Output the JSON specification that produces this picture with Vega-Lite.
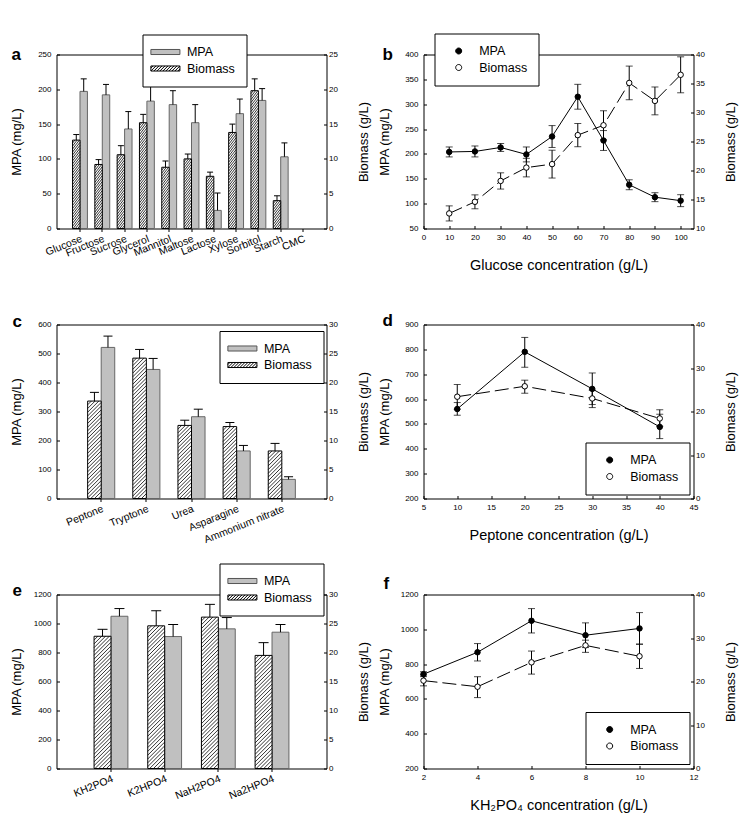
{
  "$schema": "https://vega.github.io/schema/vega-lite/v6.json",
  "background": "white",
  "padding": {"left": 9.5, "top": 32.5, "right": 2, "bottom": 2},
  "config": {
    "font": "Liberation Sans",
    "view": {"stroke": "black", "strokeWidth": 1},
    "axis": {"domain": false, "grid": false, "labelColor": "black", "tickColor": "black", "titleColor": "black", "titleFontWeight": "normal", "labelFontSize": 8, "labelOverlap": false, "labelFlush": false, "tickSize": -3, "tickWidth": 1},
    "legend": {"labelColor": "black", "labelFontSize": 12.5},
    "title": {"color": "black"}
  },
  "datasets": {
    "a": [
      {"series": "Biomass", "cat": "Glucose", "v": 12.7, "hi": 13.5},
      {"series": "Biomass", "cat": "Fructose", "v": 9.2, "hi": 9.9},
      {"series": "Biomass", "cat": "Sucrose", "v": 10.6, "hi": 11.9},
      {"series": "Biomass", "cat": "Glycerol", "v": 15.2, "hi": 16.4},
      {"series": "Biomass", "cat": "Mannitol", "v": 8.8, "hi": 9.7},
      {"series": "Biomass", "cat": "Maltose", "v": 10.0, "hi": 10.7},
      {"series": "Biomass", "cat": "Lactose", "v": 7.5, "hi": 8.1},
      {"series": "Biomass", "cat": "Xylose", "v": 13.8, "hi": 15.0},
      {"series": "Biomass", "cat": "Sorbitol", "v": 19.8, "hi": 21.5},
      {"series": "Biomass", "cat": "Starch", "v": 4.0, "hi": 4.7},
      {"series": "MPA", "cat": "Glucose", "v": 197, "hi": 215},
      {"series": "MPA", "cat": "Fructose", "v": 192, "hi": 207},
      {"series": "MPA", "cat": "Sucrose", "v": 143, "hi": 168},
      {"series": "MPA", "cat": "Glycerol", "v": 183, "hi": 204},
      {"series": "MPA", "cat": "Mannitol", "v": 178, "hi": 198},
      {"series": "MPA", "cat": "Maltose", "v": 152, "hi": 178},
      {"series": "MPA", "cat": "Lactose", "v": 26, "hi": 51},
      {"series": "MPA", "cat": "Xylose", "v": 165, "hi": 186},
      {"series": "MPA", "cat": "Sorbitol", "v": 184, "hi": 201},
      {"series": "MPA", "cat": "Starch", "v": 103, "hi": 123}
    ],
    "b": [
      {"series": "MPA", "x": 10, "v": 204, "lo": 194, "hi": 214},
      {"series": "MPA", "x": 20, "v": 205, "lo": 194, "hi": 216},
      {"series": "MPA", "x": 30, "v": 213, "lo": 205, "hi": 221},
      {"series": "MPA", "x": 40, "v": 199, "lo": 184, "hi": 214},
      {"series": "MPA", "x": 50, "v": 235, "lo": 213, "hi": 257},
      {"series": "MPA", "x": 60, "v": 315, "lo": 290, "hi": 340},
      {"series": "MPA", "x": 70, "v": 227, "lo": 207, "hi": 247},
      {"series": "MPA", "x": 80, "v": 138, "lo": 128, "hi": 148},
      {"series": "MPA", "x": 90, "v": 113, "lo": 104, "hi": 122},
      {"series": "MPA", "x": 100, "v": 106, "lo": 94, "hi": 118},
      {"series": "Biomass", "x": 10, "v": 12.6, "lo": 11.3, "hi": 13.9},
      {"series": "Biomass", "x": 20, "v": 14.6, "lo": 13.4, "hi": 15.8},
      {"series": "Biomass", "x": 30, "v": 18.2, "lo": 16.8, "hi": 19.6},
      {"series": "Biomass", "x": 40, "v": 20.5, "lo": 18.9, "hi": 22.1},
      {"series": "Biomass", "x": 50, "v": 21.1, "lo": 18.7, "hi": 23.5},
      {"series": "Biomass", "x": 60, "v": 26.1, "lo": 24.1, "hi": 28.1},
      {"series": "Biomass", "x": 70, "v": 27.8, "lo": 25.3, "hi": 30.3},
      {"series": "Biomass", "x": 80, "v": 35.1, "lo": 32.2, "hi": 38.0},
      {"series": "Biomass", "x": 90, "v": 32.0, "lo": 29.6, "hi": 34.4},
      {"series": "Biomass", "x": 100, "v": 36.5, "lo": 33.4, "hi": 39.6}
    ],
    "c": [
      {"series": "Biomass", "cat": "Peptone", "v": 16.8, "hi": 18.3},
      {"series": "Biomass", "cat": "Tryptone", "v": 24.2, "hi": 25.7},
      {"series": "Biomass", "cat": "Urea", "v": 12.6, "hi": 13.5},
      {"series": "Biomass", "cat": "Asparagine", "v": 12.4, "hi": 13.1},
      {"series": "Biomass", "cat": "Ammonium nitrate", "v": 8.2, "hi": 9.5},
      {"series": "MPA", "cat": "Peptone", "v": 521, "hi": 560},
      {"series": "MPA", "cat": "Tryptone", "v": 445, "hi": 483},
      {"series": "MPA", "cat": "Urea", "v": 282, "hi": 308},
      {"series": "MPA", "cat": "Asparagine", "v": 164, "hi": 183},
      {"series": "MPA", "cat": "Ammonium nitrate", "v": 66, "hi": 75}
    ],
    "d": [
      {"series": "MPA", "x": 10, "v": 560, "lo": 535, "hi": 586},
      {"series": "MPA", "x": 20, "v": 790, "lo": 728, "hi": 848},
      {"series": "MPA", "x": 30, "v": 641, "lo": 578, "hi": 705},
      {"series": "MPA", "x": 40, "v": 488, "lo": 441, "hi": 539},
      {"series": "Biomass", "x": 10, "v": 23.4, "lo": 20.5, "hi": 26.2},
      {"series": "Biomass", "x": 20, "v": 25.8, "lo": 24.2, "hi": 27.2},
      {"series": "Biomass", "x": 30, "v": 23.0, "lo": 20.9, "hi": 24.9},
      {"series": "Biomass", "x": 40, "v": 18.4, "lo": 16.6, "hi": 20.4}
    ],
    "e": [
      {"series": "Biomass", "cat": "KH2PO4", "v": 22.8, "hi": 24.0},
      {"series": "Biomass", "cat": "K2HPO4", "v": 24.6, "hi": 27.2},
      {"series": "Biomass", "cat": "NaH2PO4", "v": 26.1, "hi": 28.3},
      {"series": "Biomass", "cat": "Na2HPO4", "v": 19.5, "hi": 21.7},
      {"series": "MPA", "cat": "KH2PO4", "v": 1050, "hi": 1103},
      {"series": "MPA", "cat": "K2HPO4", "v": 910, "hi": 993},
      {"series": "MPA", "cat": "NaH2PO4", "v": 963, "hi": 1041},
      {"series": "MPA", "cat": "Na2HPO4", "v": 940, "hi": 993}
    ],
    "f": [
      {"series": "MPA", "x": 2, "v": 742, "lo": 728, "hi": 756},
      {"series": "MPA", "x": 4, "v": 868, "lo": 818, "hi": 918},
      {"series": "MPA", "x": 6, "v": 1049, "lo": 979, "hi": 1119},
      {"series": "MPA", "x": 8, "v": 966, "lo": 895, "hi": 1037},
      {"series": "MPA", "x": 10, "v": 1005, "lo": 914, "hi": 1096},
      {"series": "Biomass", "x": 2, "v": 20.2, "lo": 19.0, "hi": 21.5},
      {"series": "Biomass", "x": 4, "v": 18.8, "lo": 16.3, "hi": 21.1},
      {"series": "Biomass", "x": 6, "v": 24.4, "lo": 21.7, "hi": 27.0},
      {"series": "Biomass", "x": 8, "v": 28.3, "lo": 26.7, "hi": 29.5},
      {"series": "Biomass", "x": 10, "v": 25.8, "lo": 23.0, "hi": 28.6}
    ]
  },
  "concat": [
    {
      "width": 270, "height": 174,
      "data": {"name": "a"},
      "title": {"text": "a", "anchor": "start", "frame": "group", "orient": "top", "offset": 0, "dx": -45, "dy": 42.5, "baseline": "alphabetic", "fontSize": 17, "fontWeight": "bold"},
      "encoding": {
        "x": {"field": "cat", "type": "nominal", "scale": {"domain": ["Glucose", "Fructose", "Sucrose", "Glycerol", "Mannitol", "Maltose", "Lactose", "Xylose", "Sorbitol", "Starch", "CMC"], "paddingInner": 0.333, "paddingOuter": 0.72}, "axis": {"title": null, "labelAngle": -22, "labelFontSize": 10.5, "tickSize": 3, "labelPadding": 2}},
        "xOffset": {"field": "series", "type": "nominal", "scale": {"domain": ["Biomass", "MPA"], "paddingInner": 0, "paddingOuter": 0}}
      },
      "layer": [
        {
          "transform": [{"filter": "datum.series === 'MPA'"}],
          "encoding": {"y": {"field": "v", "type": "quantitative", "scale": {"domain": [0, 250], "nice": false}, "axis": {"title": "MPA (mg/L)", "values": [0, 50, 100, 150, 200, 250], "format": "d", "labelOverlap": false, "titleFontSize": 13, "titleX": -33, "titleBaseline": "bottom", "labelPadding": 8.5}}},
          "layer": [
            {"mark": {"type": "bar", "fill": "#c0c0c0", "stroke": "#666666", "strokeWidth": 1}},
            {"mark": {"type": "rule", "color": "black", "strokeWidth": 1}, "encoding": {"y2": {"field": "hi"}}},
            {"mark": {"type": "tick", "color": "black", "thickness": 1, "size": 6, "opacity": 1},
             "encoding": {"y": {"field": "hi", "type": "quantitative", "scale": {"domain": [0, 250], "nice": false}}}}
          ]
        },
        {
          "transform": [{"filter": "datum.series === 'Biomass'"}],
          "encoding": {"y": {"field": "v", "type": "quantitative", "scale": {"domain": [0, 25], "nice": false}, "axis": {"orient": "right", "title": "Biomass (g/L)", "values": [0, 5, 10, 15, 20, 25], "format": "d", "labelOverlap": false, "titleFontSize": 13, "titleAngle": 270, "titleX": 44, "titleBaseline": "bottom", "labelPadding": 5}}},
          "layer": [
            {"mark": {"type": "bar", "fill": "white", "stroke": "black", "strokeWidth": 1}},
            {"mark": {"type": "point", "shape": "M-1,0.8L-0.385,0M-1,1.6L0.231,0M-1,2.4L0.846,0M-1,3.2l2,-2.6m-2,3.4l2,-2.6m-2,3.4l2,-2.6m-2,3.4l2,-2.6m-2,3.4l2,-2.6m-2,3.4l2,-2.6m-2,3.4l2,-2.6m-2,3.4l2,-2.6m-2,3.4l2,-2.6m-2,3.4l2,-2.6m-2,3.4l2,-2.6m-2,3.4l2,-2.6m-2,3.4l2,-2.6m-2,3.4l2,-2.6m-2,3.4l2,-2.6m-2,3.4l2,-2.6m-2,3.4l2,-2.6m-2,3.4l2,-2.6m-2,3.4l2,-2.6m-2,3.4l2,-2.6m-2,3.4l2,-2.6m-2,3.4l2,-2.6m-2,3.4l2,-2.6m-2,3.4l2,-2.6m-2,3.4l2,-2.6m-2,3.4l2,-2.6m-2,3.4l2,-2.6m-2,3.4l2,-2.6m-2,3.4l2,-2.6m-2,3.4l2,-2.6m-2,3.4l2,-2.6m-2,3.4l2,-2.6m-2,3.4l2,-2.6m-2,3.4l2,-2.6m-2,3.4l2,-2.6m-2,3.4l2,-2.6m-2,3.4l2,-2.6m-2,3.4l2,-2.6m-2,3.4l2,-2.6m-2,3.4l2,-2.6m-2,3.4l2,-2.6m-2,3.4l2,-2.6m-2,3.4l2,-2.6m-2,3.4l2,-2.6m-2,3.4l2,-2.6m-2,3.4l2,-2.6m-2,3.4l2,-2.6m-2,3.4l2,-2.6m-2,3.4l2,-2.6m-2,3.4l2,-2.6m-2,3.4l2,-2.6m-2,3.4l2,-2.6m-2,3.4l2,-2.6m-2,3.4l2,-2.6m-2,3.4l2,-2.6m-2,3.4l2,-2.6m-2,3.4l2,-2.6m-2,3.4l2,-2.6m-2,3.4l2,-2.6m-2,3.4l2,-2.6", "size": 55.2, "filled": false, "stroke": "black", "strokeWidth": 0.8, "opacity": 1, "clip": true}},
            {"mark": {"type": "rule", "color": "black", "strokeWidth": 1}, "encoding": {"y2": {"field": "hi"}}},
            {"mark": {"type": "tick", "color": "black", "thickness": 1, "size": 6, "opacity": 1},
             "encoding": {"y": {"field": "hi", "type": "quantitative", "scale": {"domain": [0, 25], "nice": false}}}}
          ]
        },
        {
          "transform": [{"filter": "false"}],
          "mark": {"type": "point", "filled": true, "opacity": 0},
          "encoding": {
            "fill": {"field": "series", "type": "nominal", "scale": {"domain": ["MPA", "Biomass"], "range": ["#c0c0c0", "#ffffff"]},
              "legend": {"orient": "none", "legendX": 86, "legendY": -20, "title": null, "direction": "vertical", "fillColor": "white", "strokeColor": "black", "padding": 11, "labelFontSize": 12.5, "labelOffset": 15, "rowPadding": 3.5, "symbolSize": 144, "symbolOffset": 5.4, "symbolOpacity": 1, "symbolStrokeWidth": 1}},
            "stroke": {"field": "series", "type": "nominal", "scale": {"domain": ["MPA", "Biomass"], "range": ["#555555", "#000000"]},
              "legend": {"orient": "none", "legendX": 86, "legendY": -20, "title": null, "direction": "vertical", "fillColor": "white", "strokeColor": "black", "padding": 11, "labelFontSize": 12.5, "labelOffset": 15, "rowPadding": 3.5, "symbolSize": 144, "symbolOffset": 5.4, "symbolOpacity": 1, "symbolStrokeWidth": 1}},
            "shape": {"field": "series", "type": "nominal", "scale": {"domain": ["MPA", "Biomass"], "range": ["M-2.42,-0.42H2.42V0.42H-2.42Z", "M-2.42,-0.42H2.42V0.42H-2.42ZM-2.42,-0.08L-2.08,-0.42M-2.42,0.42l0.84,-0.84M-1.92,0.42l0.84,-0.84M-1.42,0.42l0.84,-0.84M-0.92,0.42l0.84,-0.84M-0.42,0.42l0.84,-0.84M0.08,0.42l0.84,-0.84M0.58,0.42l0.84,-0.84M1.08,0.42l0.84,-0.84M1.58,0.42l0.84,-0.84M2.08,0.42L2.42,0.08"]},
              "legend": {"orient": "none", "legendX": 86, "legendY": -20, "title": null, "direction": "vertical", "fillColor": "white", "strokeColor": "black", "padding": 11, "labelFontSize": 12.5, "labelOffset": 15, "rowPadding": 3.5, "symbolSize": 144, "symbolOffset": 5.4, "symbolOpacity": 1, "symbolStrokeWidth": 1}}
          }
        }
      ],
      "resolve": {"scale": {"y": "independent"}}
    },
    {
      "width": 270, "height": 174,
      "data": {"name": "b"},
      "title": {"text": "b", "anchor": "start", "frame": "group", "orient": "top", "offset": 0, "dx": -41, "dy": 44, "baseline": "alphabetic", "fontSize": 17, "fontWeight": "bold"},
      "encoding": {
        "x": {"field": "x", "type": "quantitative", "scale": {"domain": [0, 105], "nice": false, "zero": false}, "axis": {"title": "Glucose concentration (g/L)", "values": [0, 10, 20, 30, 40, 50, 60, 70, 80, 90, 100], "format": "d", "labelOverlap": false, "titleFontSize": 14.5, "titleY": 41, "titleBaseline": "alphabetic", "labelPadding": 7.5}}
      },
      "layer": [
        {
          "transform": [{"filter": "datum.series === 'MPA'"}],
          "encoding": {"y": {"field": "v", "type": "quantitative", "scale": {"domain": [50, 400], "nice": false, "zero": false}, "axis": {"title": "MPA (mg/L)", "values": [50, 100, 150, 200, 250, 300, 350, 400], "format": "d", "labelOverlap": false, "titleFontSize": 13, "titleX": -32, "titleBaseline": "bottom", "labelPadding": 8.5}}},
          "layer": [
            {"mark": {"type": "line", "color": "black", "strokeWidth": 1}},
            {"mark": {"type": "errorbar", "color": "black", "thickness": 1, "ticks": {"size": 7}},
             "encoding": {"y": {"field": "lo", "type": "quantitative", "scale": {"domain": [50, 400], "nice": false, "zero": false}}, "y2": {"field": "hi"}}},
            {"mark": {"type": "point", "filled": true, "size": 30, "stroke": "black", "strokeWidth": 1, "opacity": 1},
             "encoding": {"fill": {"field": "series", "type": "nominal", "scale": {"domain": ["MPA", "Biomass"], "range": ["#000000", "#ffffff"]},
               "legend": {"orient": "none", "legendX": 11, "legendY": -21, "title": null, "direction": "vertical", "fillColor": "white", "strokeColor": "black", "padding": 11, "labelFontSize": 12.5, "labelOffset": 14, "rowPadding": 3.5, "symbolType": "M-0.5,0A0.5,0.5,0,1,1,0.5,0A0.5,0.5,0,1,1,-0.5,0Z", "symbolSize": 144, "symbolOffset": 6.7, "symbolStrokeColor": "black", "symbolStrokeWidth": 1}}}}
          ]
        },
        {
          "transform": [{"filter": "datum.series === 'Biomass'"}],
          "encoding": {"y": {"field": "v", "type": "quantitative", "scale": {"domain": [10, 40], "nice": false, "zero": false}, "axis": {"orient": "right", "title": "Biomass (g/L)", "values": [10, 15, 20, 25, 30, 35, 40], "format": "d", "labelOverlap": false, "titleFontSize": 13, "titleAngle": 270, "titleX": 43.5, "titleBaseline": "bottom", "labelPadding": 5}}},
          "layer": [
            {"mark": {"type": "line", "color": "black", "strokeWidth": 1, "strokeDash": [14, 5]}},
            {"mark": {"type": "errorbar", "color": "black", "thickness": 1, "ticks": {"size": 7}},
             "encoding": {"y": {"field": "lo", "type": "quantitative", "scale": {"domain": [10, 40], "nice": false, "zero": false}}, "y2": {"field": "hi"}}},
            {"mark": {"type": "point", "filled": true, "size": 30, "stroke": "black", "strokeWidth": 1, "opacity": 1},
             "encoding": {"fill": {"field": "series", "type": "nominal", "scale": {"domain": ["MPA", "Biomass"], "range": ["#000000", "#ffffff"]}}}}
          ]
        }
      ],
      "resolve": {"scale": {"y": "independent"}}
    },
    {
      "width": 270, "height": 174,
      "data": {"name": "c"},
      "title": {"text": "c", "anchor": "start", "frame": "group", "orient": "top", "offset": 0, "dx": -44, "dy": 23.2, "baseline": "alphabetic", "fontSize": 17, "fontWeight": "bold"},
      "encoding": {
        "x": {"field": "cat", "type": "nominal", "scale": {"domain": ["Peptone", "Tryptone", "Urea", "Asparagine", "Ammonium nitrate"], "paddingInner": 0.4, "paddingOuter": 0.69}, "axis": {"title": null, "labelAngle": -22, "labelFontSize": 10.5, "tickSize": 3, "labelPadding": 2}},
        "xOffset": {"field": "series", "type": "nominal", "scale": {"domain": ["Biomass", "MPA"], "paddingInner": 0, "paddingOuter": 0}}
      },
      "layer": [
        {
          "transform": [{"filter": "datum.series === 'MPA'"}],
          "encoding": {"y": {"field": "v", "type": "quantitative", "scale": {"domain": [0, 600], "nice": false}, "axis": {"title": "MPA (mg/L)", "values": [0, 100, 200, 300, 400, 500, 600], "format": "d", "labelOverlap": false, "titleFontSize": 13, "titleX": -33, "titleBaseline": "bottom", "labelPadding": 8.5}}},
          "layer": [
            {"mark": {"type": "bar", "fill": "#c0c0c0", "stroke": "#666666", "strokeWidth": 1}},
            {"mark": {"type": "rule", "color": "black", "strokeWidth": 1}, "encoding": {"y2": {"field": "hi"}}},
            {"mark": {"type": "tick", "color": "black", "thickness": 1, "size": 9, "opacity": 1},
             "encoding": {"y": {"field": "hi", "type": "quantitative", "scale": {"domain": [0, 600], "nice": false}}}}
          ]
        },
        {
          "transform": [{"filter": "datum.series === 'Biomass'"}],
          "encoding": {"y": {"field": "v", "type": "quantitative", "scale": {"domain": [0, 30], "nice": false}, "axis": {"orient": "right", "title": "Biomass (g/L)", "values": [0, 5, 10, 15, 20, 25, 30], "format": "d", "labelOverlap": false, "titleFontSize": 13, "titleAngle": 270, "titleX": 44, "titleBaseline": "bottom", "labelPadding": 5}}},
          "layer": [
            {"mark": {"type": "bar", "fill": "white", "stroke": "black", "strokeWidth": 1}},
            {"mark": {"type": "point", "shape": "M-1,0.55L-0.45,0M-1,1.1L0.1,0M-1,1.65L0.65,0M-1,2.2l2,-2m-2,2.55l2,-2m-2,2.55l2,-2m-2,2.55l2,-2m-2,2.55l2,-2m-2,2.55l2,-2m-2,2.55l2,-2m-2,2.55l2,-2m-2,2.55l2,-2m-2,2.55l2,-2m-2,2.55l2,-2m-2,2.55l2,-2m-2,2.55l2,-2m-2,2.55l2,-2m-2,2.55l2,-2m-2,2.55l2,-2m-2,2.55l2,-2m-2,2.55l2,-2m-2,2.55l2,-2m-2,2.55l2,-2m-2,2.55l2,-2m-2,2.55l2,-2m-2,2.55l2,-2m-2,2.55l2,-2m-2,2.55l2,-2m-2,2.55l2,-2m-2,2.55l2,-2m-2,2.55l2,-2m-2,2.55l2,-2m-2,2.55l2,-2m-2,2.55l2,-2m-2,2.55l2,-2m-2,2.55l2,-2m-2,2.55l2,-2m-2,2.55l2,-2m-2,2.55l2,-2m-2,2.55l2,-2m-2,2.55l2,-2m-2,2.55l2,-2m-2,2.55l2,-2m-2,2.55l2,-2m-2,2.55l2,-2m-2,2.55l2,-2m-2,2.55l2,-2m-2,2.55l2,-2m-2,2.55l2,-2m-2,2.55l2,-2m-2,2.55l2,-2m-2,2.55l2,-2m-2,2.55l2,-2m-2,2.55l2,-2", "size": 183.6, "filled": false, "stroke": "black", "strokeWidth": 0.8, "opacity": 1, "clip": true}},
            {"mark": {"type": "rule", "color": "black", "strokeWidth": 1}, "encoding": {"y2": {"field": "hi"}}},
            {"mark": {"type": "tick", "color": "black", "thickness": 1, "size": 9, "opacity": 1},
             "encoding": {"y": {"field": "hi", "type": "quantitative", "scale": {"domain": [0, 30], "nice": false}}}}
          ]
        },
        {
          "transform": [{"filter": "false"}],
          "mark": {"type": "point", "filled": true, "opacity": 0},
          "encoding": {
            "fill": {"field": "series", "type": "nominal", "scale": {"domain": ["MPA", "Biomass"], "range": ["#c0c0c0", "#ffffff"]},
              "legend": {"orient": "none", "legendX": 163, "legendY": 6.5, "title": null, "direction": "vertical", "fillColor": "white", "strokeColor": "black", "padding": 11, "labelFontSize": 12.5, "labelOffset": 15, "rowPadding": 3.5, "symbolSize": 144, "symbolOffset": 5.4, "symbolOpacity": 1, "symbolStrokeWidth": 1}},
            "stroke": {"field": "series", "type": "nominal", "scale": {"domain": ["MPA", "Biomass"], "range": ["#555555", "#000000"]},
              "legend": {"orient": "none", "legendX": 163, "legendY": 6.5, "title": null, "direction": "vertical", "fillColor": "white", "strokeColor": "black", "padding": 11, "labelFontSize": 12.5, "labelOffset": 15, "rowPadding": 3.5, "symbolSize": 144, "symbolOffset": 5.4, "symbolOpacity": 1, "symbolStrokeWidth": 1}},
            "shape": {"field": "series", "type": "nominal", "scale": {"domain": ["MPA", "Biomass"], "range": ["M-2.42,-0.42H2.42V0.42H-2.42Z", "M-2.42,-0.42H2.42V0.42H-2.42ZM-2.42,-0.08L-2.08,-0.42M-2.42,0.42l0.84,-0.84M-1.92,0.42l0.84,-0.84M-1.42,0.42l0.84,-0.84M-0.92,0.42l0.84,-0.84M-0.42,0.42l0.84,-0.84M0.08,0.42l0.84,-0.84M0.58,0.42l0.84,-0.84M1.08,0.42l0.84,-0.84M1.58,0.42l0.84,-0.84M2.08,0.42L2.42,0.08"]},
              "legend": {"orient": "none", "legendX": 163, "legendY": 6.5, "title": null, "direction": "vertical", "fillColor": "white", "strokeColor": "black", "padding": 11, "labelFontSize": 12.5, "labelOffset": 15, "rowPadding": 3.5, "symbolSize": 144, "symbolOffset": 5.4, "symbolOpacity": 1, "symbolStrokeWidth": 1}}
          }
        }
      ],
      "resolve": {"scale": {"y": "independent"}}
    },
    {
      "width": 270, "height": 174,
      "data": {"name": "d"},
      "title": {"text": "d", "anchor": "start", "frame": "group", "orient": "top", "offset": 0, "dx": -41, "dy": 22.2, "baseline": "alphabetic", "fontSize": 17, "fontWeight": "bold"},
      "encoding": {
        "x": {"field": "x", "type": "quantitative", "scale": {"domain": [5, 45], "nice": false, "zero": false}, "axis": {"title": "Peptone concentration (g/L)", "values": [5, 10, 15, 20, 25, 30, 35, 40, 45], "format": "d", "labelOverlap": false, "titleFontSize": 14.5, "titleY": 41, "titleBaseline": "alphabetic", "labelPadding": 7.5}}
      },
      "layer": [
        {
          "transform": [{"filter": "datum.series === 'MPA'"}],
          "encoding": {"y": {"field": "v", "type": "quantitative", "scale": {"domain": [200, 900], "nice": false, "zero": false}, "axis": {"title": "MPA (mg/L)", "values": [200, 300, 400, 500, 600, 700, 800, 900], "format": "d", "labelOverlap": false, "titleFontSize": 13, "titleX": -32, "titleBaseline": "bottom", "labelPadding": 8.5}}},
          "layer": [
            {"mark": {"type": "line", "color": "black", "strokeWidth": 1}},
            {"mark": {"type": "errorbar", "color": "black", "thickness": 1, "ticks": {"size": 7}},
             "encoding": {"y": {"field": "lo", "type": "quantitative", "scale": {"domain": [200, 900], "nice": false, "zero": false}}, "y2": {"field": "hi"}}},
            {"mark": {"type": "point", "filled": true, "size": 30, "stroke": "black", "strokeWidth": 1, "opacity": 1},
             "encoding": {"fill": {"field": "series", "type": "nominal", "scale": {"domain": ["MPA", "Biomass"], "range": ["#000000", "#ffffff"]},
               "legend": {"orient": "none", "legendX": 162, "legendY": 118, "title": null, "direction": "vertical", "fillColor": "white", "strokeColor": "black", "padding": 11, "labelFontSize": 12.5, "labelOffset": 14, "rowPadding": 3.5, "symbolType": "M-0.5,0A0.5,0.5,0,1,1,0.5,0A0.5,0.5,0,1,1,-0.5,0Z", "symbolSize": 144, "symbolOffset": 6.7, "symbolStrokeColor": "black", "symbolStrokeWidth": 1}}}}
          ]
        },
        {
          "transform": [{"filter": "datum.series === 'Biomass'"}],
          "encoding": {"y": {"field": "v", "type": "quantitative", "scale": {"domain": [0, 40], "nice": false, "zero": false}, "axis": {"orient": "right", "title": "Biomass (g/L)", "values": [0, 10, 20, 30, 40], "format": "d", "labelOverlap": false, "titleFontSize": 13, "titleAngle": 270, "titleX": 43.5, "titleBaseline": "bottom", "labelPadding": 5}}},
          "layer": [
            {"mark": {"type": "line", "color": "black", "strokeWidth": 1, "strokeDash": [14, 5]}},
            {"mark": {"type": "errorbar", "color": "black", "thickness": 1, "ticks": {"size": 7}},
             "encoding": {"y": {"field": "lo", "type": "quantitative", "scale": {"domain": [0, 40], "nice": false, "zero": false}}, "y2": {"field": "hi"}}},
            {"mark": {"type": "point", "filled": true, "size": 30, "stroke": "black", "strokeWidth": 1, "opacity": 1},
             "encoding": {"fill": {"field": "series", "type": "nominal", "scale": {"domain": ["MPA", "Biomass"], "range": ["#000000", "#ffffff"]}}}}
          ]
        }
      ],
      "resolve": {"scale": {"y": "independent"}}
    },
    {
      "width": 270, "height": 174,
      "data": {"name": "e"},
      "title": {"text": "e", "anchor": "start", "frame": "group", "orient": "top", "offset": 0, "dx": -44, "dy": 50, "baseline": "alphabetic", "fontSize": 17, "fontWeight": "bold"},
      "encoding": {
        "x": {"field": "cat", "type": "nominal", "scale": {"domain": ["KH2PO4", "K2HPO4", "NaH2PO4", "Na2HPO4"], "paddingInner": 0.37, "paddingOuter": 0.7}, "axis": {"title": null, "labelAngle": -22, "labelFontSize": 10.5, "tickSize": 3, "labelPadding": 2}},
        "xOffset": {"field": "series", "type": "nominal", "scale": {"domain": ["Biomass", "MPA"], "paddingInner": 0, "paddingOuter": 0}}
      },
      "layer": [
        {
          "transform": [{"filter": "datum.series === 'MPA'"}],
          "encoding": {"y": {"field": "v", "type": "quantitative", "scale": {"domain": [0, 1200], "nice": false}, "axis": {"title": "MPA (mg/L)", "values": [0, 200, 400, 600, 800, 1000, 1200], "format": "d", "labelOverlap": false, "titleFontSize": 13, "titleX": -33, "titleBaseline": "bottom", "labelPadding": 8.5}}},
          "layer": [
            {"mark": {"type": "bar", "fill": "#c0c0c0", "stroke": "#666666", "strokeWidth": 1}},
            {"mark": {"type": "rule", "color": "black", "strokeWidth": 1}, "encoding": {"y2": {"field": "hi"}}},
            {"mark": {"type": "tick", "color": "black", "thickness": 1, "size": 10, "opacity": 1},
             "encoding": {"y": {"field": "hi", "type": "quantitative", "scale": {"domain": [0, 1200], "nice": false}}}}
          ]
        },
        {
          "transform": [{"filter": "datum.series === 'Biomass'"}],
          "encoding": {"y": {"field": "v", "type": "quantitative", "scale": {"domain": [0, 30], "nice": false}, "axis": {"orient": "right", "title": "Biomass (g/L)", "values": [0, 5, 10, 15, 20, 25, 30], "format": "d", "labelOverlap": false, "titleFontSize": 13, "titleAngle": 270, "titleX": 44, "titleBaseline": "bottom", "labelPadding": 5}}},
          "layer": [
            {"mark": {"type": "bar", "fill": "white", "stroke": "black", "strokeWidth": 1}},
            {"mark": {"type": "point", "shape": "M-1,0.45L-0.55,0M-1,0.9L-0.1,0M-1,1.35L0.35,0M-1,1.8L0.8,0M-1,2.25l2,-2m-2,2.45l2,-2m-2,2.45l2,-2m-2,2.45l2,-2m-2,2.45l2,-2m-2,2.45l2,-2m-2,2.45l2,-2m-2,2.45l2,-2m-2,2.45l2,-2m-2,2.45l2,-2m-2,2.45l2,-2m-2,2.45l2,-2m-2,2.45l2,-2m-2,2.45l2,-2m-2,2.45l2,-2m-2,2.45l2,-2m-2,2.45l2,-2m-2,2.45l2,-2m-2,2.45l2,-2m-2,2.45l2,-2m-2,2.45l2,-2m-2,2.45l2,-2m-2,2.45l2,-2m-2,2.45l2,-2m-2,2.45l2,-2m-2,2.45l2,-2m-2,2.45l2,-2m-2,2.45l2,-2m-2,2.45l2,-2m-2,2.45l2,-2m-2,2.45l2,-2m-2,2.45l2,-2m-2,2.45l2,-2m-2,2.45l2,-2m-2,2.45l2,-2m-2,2.45l2,-2m-2,2.45l2,-2m-2,2.45l2,-2m-2,2.45l2,-2m-2,2.45l2,-2m-2,2.45l2,-2m-2,2.45l2,-2m-2,2.45l2,-2m-2,2.45l2,-2m-2,2.45l2,-2m-2,2.45l2,-2m-2,2.45l2,-2m-2,2.45l2,-2m-2,2.45l2,-2m-2,2.45l2,-2m-2,2.45l2,-2", "size": 286, "filled": false, "stroke": "black", "strokeWidth": 0.8, "opacity": 1, "clip": true}},
            {"mark": {"type": "rule", "color": "black", "strokeWidth": 1}, "encoding": {"y2": {"field": "hi"}}},
            {"mark": {"type": "tick", "color": "black", "thickness": 1, "size": 10, "opacity": 1},
             "encoding": {"y": {"field": "hi", "type": "quantitative", "scale": {"domain": [0, 30], "nice": false}}}}
          ]
        },
        {
          "transform": [{"filter": "false"}],
          "mark": {"type": "point", "filled": true, "opacity": 0},
          "encoding": {
            "fill": {"field": "series", "type": "nominal", "scale": {"domain": ["MPA", "Biomass"], "range": ["#c0c0c0", "#ffffff"]},
              "legend": {"orient": "none", "legendX": 163, "legendY": -31, "title": null, "direction": "vertical", "fillColor": "white", "strokeColor": "black", "padding": 11, "labelFontSize": 12.5, "labelOffset": 15, "rowPadding": 3.5, "symbolSize": 144, "symbolOffset": 5.4, "symbolOpacity": 1, "symbolStrokeWidth": 1}},
            "stroke": {"field": "series", "type": "nominal", "scale": {"domain": ["MPA", "Biomass"], "range": ["#555555", "#000000"]},
              "legend": {"orient": "none", "legendX": 163, "legendY": -31, "title": null, "direction": "vertical", "fillColor": "white", "strokeColor": "black", "padding": 11, "labelFontSize": 12.5, "labelOffset": 15, "rowPadding": 3.5, "symbolSize": 144, "symbolOffset": 5.4, "symbolOpacity": 1, "symbolStrokeWidth": 1}},
            "shape": {"field": "series", "type": "nominal", "scale": {"domain": ["MPA", "Biomass"], "range": ["M-2.42,-0.42H2.42V0.42H-2.42Z", "M-2.42,-0.42H2.42V0.42H-2.42ZM-2.42,-0.08L-2.08,-0.42M-2.42,0.42l0.84,-0.84M-1.92,0.42l0.84,-0.84M-1.42,0.42l0.84,-0.84M-0.92,0.42l0.84,-0.84M-0.42,0.42l0.84,-0.84M0.08,0.42l0.84,-0.84M0.58,0.42l0.84,-0.84M1.08,0.42l0.84,-0.84M1.58,0.42l0.84,-0.84M2.08,0.42L2.42,0.08"]},
              "legend": {"orient": "none", "legendX": 163, "legendY": -31, "title": null, "direction": "vertical", "fillColor": "white", "strokeColor": "black", "padding": 11, "labelFontSize": 12.5, "labelOffset": 15, "rowPadding": 3.5, "symbolSize": 144, "symbolOffset": 5.4, "symbolOpacity": 1, "symbolStrokeWidth": 1}}
          }
        }
      ],
      "resolve": {"scale": {"y": "independent"}}
    },
    {
      "width": 270, "height": 174,
      "data": {"name": "f"},
      "title": {"text": "f", "anchor": "start", "frame": "group", "orient": "top", "offset": 0, "dx": -40, "dy": 15.2, "baseline": "alphabetic", "fontSize": 17, "fontWeight": "bold"},
      "encoding": {
        "x": {"field": "x", "type": "quantitative", "scale": {"domain": [2, 12], "nice": false, "zero": false}, "axis": {"title": "KH₂PO₄ concentration (g/L)", "values": [2, 4, 6, 8, 10, 12], "format": "d", "labelOverlap": false, "titleFontSize": 14.5, "titleY": 41, "titleBaseline": "alphabetic", "labelPadding": 7.5}}
      },
      "layer": [
        {
          "transform": [{"filter": "datum.series === 'MPA'"}],
          "encoding": {"y": {"field": "v", "type": "quantitative", "scale": {"domain": [200, 1200], "nice": false, "zero": false}, "axis": {"title": "MPA (mg/L)", "values": [200, 400, 600, 800, 1000, 1200], "format": "d", "labelOverlap": false, "titleFontSize": 13, "titleX": -32, "titleBaseline": "bottom", "labelPadding": 8.5}}},
          "layer": [
            {"mark": {"type": "line", "color": "black", "strokeWidth": 1}},
            {"mark": {"type": "errorbar", "color": "black", "thickness": 1, "ticks": {"size": 7}},
             "encoding": {"y": {"field": "lo", "type": "quantitative", "scale": {"domain": [200, 1200], "nice": false, "zero": false}}, "y2": {"field": "hi"}}},
            {"mark": {"type": "point", "filled": true, "size": 30, "stroke": "black", "strokeWidth": 1, "opacity": 1},
             "encoding": {"fill": {"field": "series", "type": "nominal", "scale": {"domain": ["MPA", "Biomass"], "range": ["#000000", "#ffffff"]},
               "legend": {"orient": "none", "legendX": 162, "legendY": 117.5, "title": null, "direction": "vertical", "fillColor": "white", "strokeColor": "black", "padding": 11, "labelFontSize": 12.5, "labelOffset": 14, "rowPadding": 3.5, "symbolType": "M-0.5,0A0.5,0.5,0,1,1,0.5,0A0.5,0.5,0,1,1,-0.5,0Z", "symbolSize": 144, "symbolOffset": 6.7, "symbolStrokeColor": "black", "symbolStrokeWidth": 1}}}}
          ]
        },
        {
          "transform": [{"filter": "datum.series === 'Biomass'"}],
          "encoding": {"y": {"field": "v", "type": "quantitative", "scale": {"domain": [0, 40], "nice": false, "zero": false}, "axis": {"orient": "right", "title": "Biomass (g/L)", "values": [0, 10, 20, 30, 40], "format": "d", "labelOverlap": false, "titleFontSize": 13, "titleAngle": 270, "titleX": 43.5, "titleBaseline": "bottom", "labelPadding": 5}}},
          "layer": [
            {"mark": {"type": "line", "color": "black", "strokeWidth": 1, "strokeDash": [14, 5]}},
            {"mark": {"type": "errorbar", "color": "black", "thickness": 1, "ticks": {"size": 7}},
             "encoding": {"y": {"field": "lo", "type": "quantitative", "scale": {"domain": [0, 40], "nice": false, "zero": false}}, "y2": {"field": "hi"}}},
            {"mark": {"type": "point", "filled": true, "size": 30, "stroke": "black", "strokeWidth": 1, "opacity": 1},
             "encoding": {"fill": {"field": "series", "type": "nominal", "scale": {"domain": ["MPA", "Biomass"], "range": ["#000000", "#ffffff"]}}}}
          ]
        }
      ],
      "resolve": {"scale": {"y": "independent"}}
    }
  ],
  "columns": 2,
  "spacing": {"row": 96, "column": 97},
  "bounds": "flush",
  "resolve": {"scale": {"fill": "independent", "xOffset": "independent", "shape": "independent", "stroke": "independent"}, "legend": {"fill": "independent", "shape": "independent", "stroke": "independent"}}
}
